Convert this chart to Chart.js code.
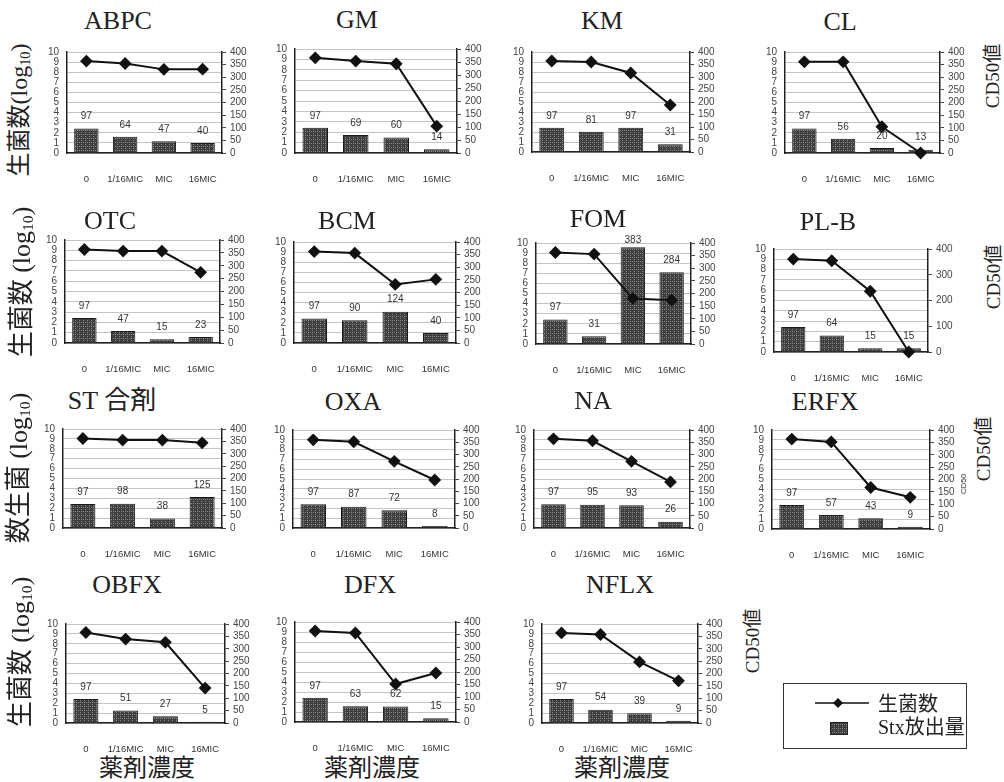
<!DOCTYPE html>
<html>
<head>
<meta charset="utf-8">
<script src="https://cdn.jsdelivr.net/npm/chart.js@4.4.1/dist/chart.umd.min.js"></script>
<style>
html, body { margin: 0; padding: 0; background: #fff; }
#page { position: relative; width: 1004px; height: 782px; overflow: hidden; background: #fff; }
canvas.panel { position: absolute; }
.t { position: absolute; white-space: nowrap; transform: translate(-50%, -50%);
     font-family: "Liberation Serif", "Noto Sans CJK JP", serif; color: #222; line-height: 1; }
.v { transform: translate(-50%, -50%) rotate(-90deg); }
.l { position: absolute; white-space: nowrap; transform: translate(0, -50%);
     font-family: "Liberation Serif", "Noto Sans CJK JP", serif; color: #222; line-height: 1; font-size: 20px; }
sub { font-size: 0.6em; vertical-align: -0.2em; }
#legend { position: absolute; left: 783px; top: 683px; width: 182px; height: 64px; border: 1.5px solid #333; }
</style>
</head>
<body>
<div id="page"></div>
<script>
// Drug concentration steps
const categories = ['0', '1/16MIC', 'MIC', '16MIC'];

// Viable count (log10) and Stx release per drug
const ABPC_count = [9.1, 8.86, 8.28, 8.3];
const ABPC_stx   = [97, 64, 47, 40];
const GM_count   = [9.15, 8.84, 8.58, 2.58];
const GM_stx     = [97, 69, 60, 14];
const KM_count   = [9.1, 9.0, 7.9, 4.7];
const KM_stx     = [97, 81, 97, 31];
const CL_count   = [9.03, 9.03, 2.6, 0];
const CL_stx     = [97, 56, 20, 13];
const OTC_count  = [9.08, 8.92, 8.92, 6.86];
const OTC_stx    = [97, 47, 15, 23];
const BCM_count  = [9.05, 8.9, 5.8, 6.3];
const BCM_stx    = [97, 90, 124, 40];
const FOM_count  = [9.06, 8.9, 4.5, 4.34];
const FOM_stx    = [97, 31, 383, 284];
const PLB_count  = [9.02, 8.86, 5.9, 0];
const PLB_stx    = [97, 64, 15, 15];
const ST_count   = [9.04, 8.88, 8.88, 8.6];
const ST_stx     = [97, 98, 38, 125];
const OXA_count  = [9.0, 8.8, 6.8, 4.9];
const OXA_stx    = [97, 87, 72, 8];
const NA_count   = [9.1, 8.9, 6.8, 4.7];
const NA_stx     = [97, 95, 93, 26];
const ERFX_count = [9.08, 8.8, 4.19, 3.2];
const ERFX_stx   = [97, 57, 43, 9];
const OBFX_count = [9.14, 8.48, 8.15, 3.53];
const OBFX_stx   = [97, 51, 27, 5];
const DFX_count  = [9.1, 8.9, 3.8, 4.9];
const DFX_stx    = [97, 63, 62, 15];
const NFLX_count = [9.1, 8.94, 6.17, 4.26];
const NFLX_stx   = [97, 54, 39, 9];

// Panel list: plot area [left, right, top, bottom] and title centre
const panels = [
  { title: 'ABPC',   count: ABPC_count, stx: ABPC_stx, area: [67, 222, 50, 153],  head: [118, 21] },
  { title: 'GM',     count: GM_count,   stx: GM_stx,   area: [295, 457, 47, 153], head: [357, 20] },
  { title: 'KM',     count: KM_count,   stx: KM_stx,   area: [532, 690, 50, 152], head: [602, 21] },
  { title: 'CL',     count: CL_count,   stx: CL_stx,   area: [785, 940, 50, 153], head: [840, 22] },
  { title: 'OTC',    count: OTC_count,  stx: OTC_stx,  area: [65, 220, 238, 343], head: [110, 221] },
  { title: 'BCM',    count: BCM_count,  stx: BCM_stx,  area: [294, 456, 240, 343], head: [347, 221] },
  { title: 'FOM',    count: FOM_count,  stx: FOM_stx,  area: [536, 691, 241, 344], head: [598, 219] },
  { title: 'PL-B',   count: PLB_count,  stx: PLB_stx,  area: [774, 928, 247, 352], head: [828, 222], step: 100 },
  { title: 'ST 合剤', count: ST_count,   stx: ST_stx,   area: [63, 222, 427, 528], head: [112, 401] },
  { title: 'OXA',    count: OXA_count,  stx: OXA_stx,  area: [293, 455, 428, 528], head: [353, 402] },
  { title: 'NA',     count: NA_count,   stx: NA_stx,   area: [534, 690, 428, 528], head: [593, 401] },
  { title: 'ERFX',   count: ERFX_count, stx: ERFX_stx, area: [772, 930, 428, 529], head: [825, 402] },
  { title: 'OBFX',   count: OBFX_count, stx: OBFX_stx, area: [66, 225, 622, 723], head: [127, 585] },
  { title: 'DFX',    count: DFX_count,  stx: DFX_stx,  area: [295, 456, 620, 722], head: [370, 585] },
  { title: 'NFLX',   count: NFLX_count, stx: NFLX_stx, area: [542, 698, 622, 723], head: [620, 585] }
];

const page = document.getElementById('page');
const TICK_FONT = { family: '"Liberation Sans", Arial, sans-serif', size: 10 };
const CAT_FONT = { family: '"Liberation Sans", Arial, sans-serif', size: 9.5 };

// Stippled dark fill for the Stx bars
function stipple() {
  const c = document.createElement('canvas');
  c.width = 4; c.height = 4;
  const g = c.getContext('2d');
  g.fillStyle = '#3e3e3e'; g.fillRect(0, 0, 4, 4);
  g.fillStyle = '#8a8a8a';
  g.fillRect(0, 0, 1, 1); g.fillRect(2, 0, 1, 1); g.fillRect(0, 2, 1, 1);
  return g.createPattern(c, 'repeat');
}
const barFill = stipple();

// Value printed above each Stx bar
const valueLabels = {
  id: 'valueLabels',
  afterDatasetsDraw(chart) {
    const meta = chart.getDatasetMeta(1);
    const vals = chart.data.datasets[1].data;
    const ctx = chart.ctx;
    const top = chart.chartArea.top;
    ctx.save();
    ctx.font = '10px "Liberation Sans", Arial, sans-serif';
    ctx.fillStyle = '#333';
    ctx.textAlign = 'center';
    ctx.textBaseline = 'middle';
    meta.data.forEach((bar, i) => {
      const y = Math.max(bar.y - 12, top - 3);
      ctx.fillText(String(vals[i]), bar.x, y);
    });
    ctx.restore();
  }
};

function addText(html, x, y, size, cls) {
  const d = document.createElement('div');
  d.className = cls || 't';
  d.innerHTML = html;
  d.style.left = x + 'px';
  d.style.top = y + 'px';
  if (size) d.style.fontSize = size + 'px';
  page.appendChild(d);
  return d;
}

function makePanel(p) {
  const L = 30, R = 32, T = 12, B = 30;
  const pw = p.area[1] - p.area[0], ph = p.area[3] - p.area[2];
  const w = L + pw + R, h = T + ph + B;
  const cv = document.createElement('canvas');
  cv.className = 'panel';
  cv.width = w; cv.height = h;
  cv.style.width = w + 'px'; cv.style.height = h + 'px';
  cv.style.left = (p.area[0] - L) + 'px';
  cv.style.top = (p.area[2] - T) + 'px';
  page.appendChild(cv);

  new Chart(cv, {
    data: {
      labels: categories,
      datasets: [
        { type: 'line', label: '生菌数', data: p.count, yAxisID: 'yL',
          borderColor: '#111', borderWidth: 2, tension: 0,
          pointStyle: 'rectRot', pointRadius: 5, pointBackgroundColor: '#111', pointBorderColor: '#111',
          clip: false, order: 0 },
        { type: 'bar', label: 'Stx放出量', data: p.stx, yAxisID: 'yR',
          backgroundColor: barFill, borderColor: '#1a1a1a', borderWidth: 1,
          barPercentage: 0.63, categoryPercentage: 1, order: 1 }
      ]
    },
    options: {
      responsive: false, animation: false, devicePixelRatio: 1,
      layout: { padding: { top: T, left: 0, right: 0, bottom: 0 } },
      plugins: { legend: { display: false }, tooltip: { enabled: false } },
      scales: {
        x: {
          offset: true,
          grid: { display: false },
          border: { color: '#222', width: 1.5 },
          ticks: { padding: 13, font: CAT_FONT, color: '#333', maxRotation: 0, minRotation: 0, autoSkip: false },
          afterFit: s => { s.height = B; }
        },
        yL: {
          position: 'left', min: 0, max: 10,
          grid: { color: '#c4c4c4', lineWidth: 1, drawTicks: false },
          border: { color: '#222', width: 1.5 },
          ticks: { stepSize: 1, padding: 8, font: TICK_FONT, color: '#444', autoSkip: false },
          afterFit: s => { s.width = L; }
        },
        yR: {
          position: 'right', min: 0, max: 400,
          grid: { drawOnChartArea: false, drawTicks: true, tickLength: 4, color: '#444' },
          border: { color: '#222', width: 1.5 },
          ticks: { stepSize: p.step || 50, padding: 4, font: TICK_FONT, color: '#444', autoSkip: false },
          afterFit: s => { s.width = R; }
        }
      }
    },
    plugins: [valueLabels]
  });

  addText(p.title, p.head[0], p.head[1], 26);
}

panels.forEach(makePanel);

// Axis titles
const yTitle1 = '生菌数(log<sub>10</sub>)';
const yTitle = '生菌数 (log<sub>10</sub>)';
addText(yTitle1, 20, 110, 24, 't v');
addText(yTitle, 22, 282, 26, 't v');
addText('数生菌 (log<sub>10</sub>)', 19, 468, 26, 't v');
addText(yTitle, 21, 652, 26, 't v');

addText('CD50値', 992, 76, 19, 't v');
addText('CD50値', 993, 277, 19, 't v');
addText('CD50値', 983, 449, 19, 't v');
addText('CD50値', 752, 641, 19, 't v');
const small = addText('CD50', 964, 484, 8, 't v');
small.style.fontFamily = '"Liberation Sans", Arial, sans-serif';

addText('薬剤濃度', 147, 768, 24);
addText('薬剤濃度', 372, 768, 24);
addText('薬剤濃度', 622, 768, 24);

// Legend box
const lg = document.createElement('div');
lg.id = 'legend';
page.appendChild(lg);
const key = document.createElement('canvas');
key.width = 70; key.height = 60;
key.style.position = 'absolute';
key.style.left = '810px'; key.style.top = '684px';
page.appendChild(key);
(function drawKey() {
  const g = key.getContext('2d');
  g.strokeStyle = '#111'; g.lineWidth = 1.5;
  g.beginPath(); g.moveTo(5, 19); g.lineTo(59, 19); g.stroke();
  g.fillStyle = '#111';
  g.beginPath(); g.moveTo(28, 14); g.lineTo(33, 19); g.lineTo(28, 24); g.lineTo(23, 19); g.closePath(); g.fill();
  g.fillStyle = barFill; g.fillRect(20, 38, 18, 13);
  g.strokeStyle = '#222'; g.lineWidth = 1; g.strokeRect(20.5, 38.5, 17, 12);
})();
addText('生菌数', 878, 704, null, 'l');
addText('Stx放出量', 878, 727, null, 'l');
</script>
</body>
</html>
